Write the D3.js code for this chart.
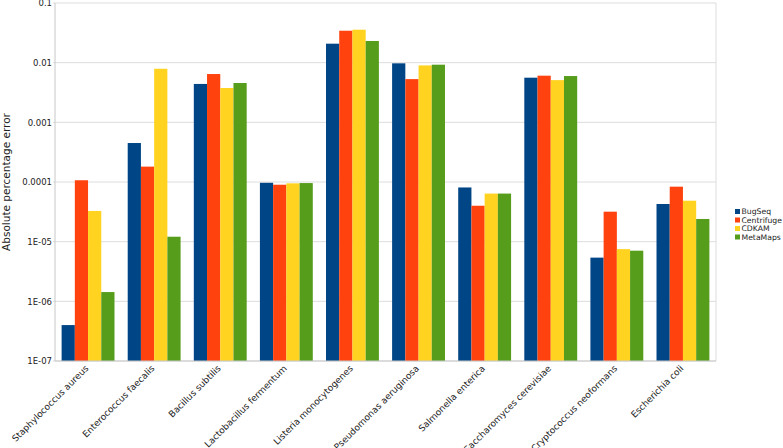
<!DOCTYPE html>
<html>
<head>
<meta charset="utf-8">
<script src="https://cdn.jsdelivr.net/npm/d3@7"></script>
<style>
  body { margin: 0; background: #fff; }
  svg { display: block; font-family: "DejaVu Sans", sans-serif; }
</style>
</head>
<body>
<div id="area"></div>
<script>
var categories = ['Staphylococcus aureus', 'Enterococcus faecalis', 'Bacillus subtilis',
  'Lactobacillus fermentum', 'Listeria monocytogenes', 'Pseudomonas aeruginosa',
  'Salmonella enterica', 'Saccharomyces cerevisiae', 'Cryptococcus neoformans', 'Escherichia coli'];

var seriesNames = ['BugSeq', 'Centrifuge', 'CDKAM', 'MetaMaps'];

var bugseq     = [4.0e-7, 4.5e-4, 4.4e-3, 9.7e-5, 2.08e-2, 9.75e-3, 8.1e-5, 5.6e-3, 5.4e-6, 4.28e-5];
var centrifuge = [1.07e-4, 1.81e-4, 6.45e-3, 9.0e-5, 3.43e-2, 5.3e-3, 4.0e-5, 6.05e-3, 3.18e-5, 8.35e-5];
var cdkam      = [3.27e-5, 7.9e-3, 3.76e-3, 9.5e-5, 3.57e-2, 9.0e-3, 6.4e-5, 5.1e-3, 7.5e-6, 4.86e-5];
var metamaps   = [1.43e-6, 1.21e-5, 4.56e-3, 9.6e-5, 2.31e-2, 9.25e-3, 6.4e-5, 5.97e-3, 7.06e-6, 2.4e-5];

var tickValues = [1e-7, 1e-6, 1e-5, 1e-4, 1e-3, 1e-2, 1e-1];
var tickLabels = ['1E-07', '1E-06', '1E-05', '0.0001', '0.001', '0.01', '0.1'];

var colors = ['#004586', '#ff420e', '#ffd320', '#579d1c'];
var allSeries = [bugseq, centrifuge, cdkam, metamaps];

var width = 783, height = 448;
var plotLeft = 55, plotRight = 716, plotTop = 3, plotBottom = 361;

var svg = d3.select('#area').append('svg')
  .attr('width', width).attr('height', height);

var x = d3.scaleBand().domain(categories).range([plotLeft, plotRight])
  .paddingInner(0.2).paddingOuter(0.1);
var xs = d3.scaleBand().domain(seriesNames).range([0, x.bandwidth()]);
var y = d3.scaleLog().domain([1e-7, 0.1]).range([plotBottom, plotTop]);

// gridlines
svg.append('g').selectAll('line').data(tickValues).enter().append('line')
  .attr('x1', plotLeft - 2).attr('x2', plotRight)
  .attr('y1', function(d) { return y(d); }).attr('y2', function(d) { return y(d); })
  .attr('stroke', '#dddddd').attr('stroke-width', 1);

// plot border right + left
svg.append('line').attr('x1', plotRight).attr('x2', plotRight).attr('y1', plotTop).attr('y2', plotBottom)
  .attr('stroke', '#dddddd');
svg.append('line').attr('x1', plotLeft).attr('x2', plotLeft).attr('y1', plotTop).attr('y2', plotBottom)
  .attr('stroke', '#c8c8c8');

// bars
var groups = svg.append('g').selectAll('g').data(categories).enter().append('g')
  .attr('transform', function(d) { return 'translate(' + x(d) + ',0)'; });

groups.selectAll('rect')
  .data(function(d, i) { return allSeries.map(function(s, k) { return {name: seriesNames[k], v: s[i], c: colors[k]}; }); })
  .enter().append('rect')
  .attr('x', function(d) { return xs(d.name); })
  .attr('width', xs.bandwidth())
  .attr('y', function(d) { return y(d.v); })
  .attr('height', function(d) { return plotBottom - y(d.v); })
  .attr('fill', function(d) { return d.c; });

// bottom axis line
svg.append('line').attr('x1', plotLeft).attr('x2', plotRight).attr('y1', plotBottom).attr('y2', plotBottom)
  .attr('stroke', '#c8c8c8');

// y axis labels
var yAxis = d3.axisLeft(y).tickValues(tickValues)
  .tickFormat(function(d, i) { return tickLabels[i]; }).tickSize(0).tickPadding(3);
var yg = svg.append('g').attr('transform', 'translate(' + plotLeft + ',0)').call(yAxis);
yg.select('.domain').remove();
yg.selectAll('text').attr('font-size', 8.5).attr('fill', '#222')
  .attr('font-family', '"DejaVu Sans", sans-serif');

// x labels
svg.append('g').selectAll('text').data(categories).enter().append('text')
  .attr('transform', function(d) {
    return 'translate(' + (x(d) + x.bandwidth() / 2 + 1) + ',' + (plotBottom + 8) + ') rotate(-45)';
  })
  .attr('text-anchor', 'end')
  .attr('font-size', 9).attr('fill', '#222')
  .text(function(d) { return d; });

// y title
svg.append('text')
  .attr('transform', 'translate(10,' + ((plotTop + plotBottom) / 2) + ') rotate(-90)')
  .attr('text-anchor', 'middle')
  .attr('font-size', 10.5).attr('fill', '#222')
  .text('Absolute percentage error');

// legend
var legend = svg.append('g').attr('transform', 'translate(735,209)');
seriesNames.forEach(function(n, i) {
  legend.append('rect').attr('x', 0).attr('y', i * 8.5).attr('width', 5).attr('height', 5)
    .attr('fill', colors[i]);
  legend.append('text').attr('x', 6.5).attr('y', i * 8.5 + 5).attr('font-size', 7.7)
    .attr('fill', '#222').text(n);
});
</script>
</body>
</html>
